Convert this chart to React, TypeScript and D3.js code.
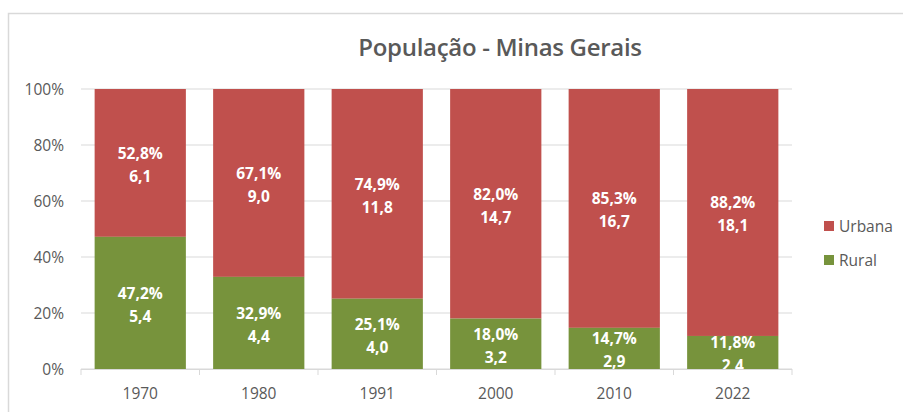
import React from "react";
import * as d3 from "d3";

const years = ["1970", "1980", "1991", "2000", "2010", "2022"];
const ruralPct = [47.2, 32.9, 25.1, 18.0, 14.7, 11.8];
const urbanaPct = [52.8, 67.1, 74.9, 82.0, 85.3, 88.2];
const ruralVal = ["5,4", "4,4", "4,0", "3,2", "2,9", "2,4"];
const urbanaVal = ["6,1", "9,0", "11,8", "14,7", "16,7", "18,1"];
const yTicks = [0, 20, 40, 60, 80, 100];
const seriesNames = ["Urbana", "Rural"];

const W = 903, H = 412;
const left = 81, right = 792, top = 89, bottom = 369;
const RED = "#C0504D", GREEN = "#77933C", GRAY = "#595959";
const FONT = "'Open Sans', 'Noto Sans', sans-serif";

const fmt = (v: number) => v.toFixed(1).replace(".", ",") + "%";

export default function App() {
  const x = d3.scaleBand<string>().domain(years).range([left, right]).paddingInner(0.23).paddingOuter(0.115);
  const y = d3.scaleLinear().domain([0, 100]).range([bottom, top]);
  const bw = x.bandwidth();
  const step = x.step();

  return (
    <svg width={W} height={H} style={{ position: "absolute", left: 0, top: 0 }} fontFamily={FONT}>
      <defs>
        <clipPath id="plotclip">
          <rect x={left} y={top} width={right - left} height={bottom - top} />
        </clipPath>
      </defs>
      <rect x={0} y={0} width={W} height={H} fill="#fff" />
      <rect x={8.5} y={13.5} width={W + 20} height={H + 20} fill="none" stroke="#D9D9D9" strokeWidth={1.5} />
      <text x={500} y={56} textAnchor="middle" fontSize={24} fontWeight="600" fill={GRAY} letterSpacing={-0.3}>População - Minas Gerais</text>

      {yTicks.map((t) => (
        <g key={t}>
          <line x1={left} x2={right} y1={y(t)} y2={y(t)} stroke="#D9D9D9" strokeWidth={1} />
          <text x={64} y={y(t) + 5.5} textAnchor="end" fontSize={15.5} fill={GRAY}>{t}%</text>
        </g>
      ))}

      {years.map((yr, i) => {
        const x0 = x(yr)!;
        const rTop = y(ruralPct[i]);
        const uTop = y(ruralPct[i] + urbanaPct[i]);
        const cx = x0 + bw / 2;
        const rc = (rTop + bottom) / 2;
        const uc = (uTop + rTop) / 2;
        return (
          <g key={yr}>
            <rect x={x0} y={uTop} width={bw} height={rTop - uTop} fill={RED} />
            <rect x={x0} y={rTop} width={bw} height={bottom - rTop} fill={GREEN} />
            <g clipPath="url(#plotclip)" fill="#fff" fontSize={15.5} fontWeight="bold" textAnchor="middle">
              <text x={cx} y={uc - 4}>{fmt(urbanaPct[i])}</text>
              <text x={cx} y={uc + 19}>{urbanaVal[i]}</text>
              <text x={cx} y={rc - 4}>{fmt(ruralPct[i])}</text>
              <text x={cx} y={rc + 19}>{ruralVal[i]}</text>
            </g>
          </g>
        );
      })}

      <line x1={left} x2={right} y1={bottom + 0.5} y2={bottom + 0.5} stroke="#D9D9D9" />
      {d3.range(years.length + 1).map((k) => (
        <line key={k} x1={left + k * step} x2={left + k * step} y1={bottom} y2={bottom + 6} stroke="#D9D9D9" />
      ))}
      {years.map((yr) => (
        <text key={yr} x={x(yr)! + bw / 2} y={399} textAnchor="middle" fontSize={15.5} fill={GRAY}>{yr}</text>
      ))}

      {seriesNames.map((s, i) => (
        <g key={s}>
          <rect x={824} y={221 + i * 34} width={10} height={10} fill={i === 0 ? RED : GREEN} />
          <text x={839} y={231.5 + i * 34} fontSize={15.5} fill={GRAY}>{s}</text>
        </g>
      ))}
    </svg>
  );
}
